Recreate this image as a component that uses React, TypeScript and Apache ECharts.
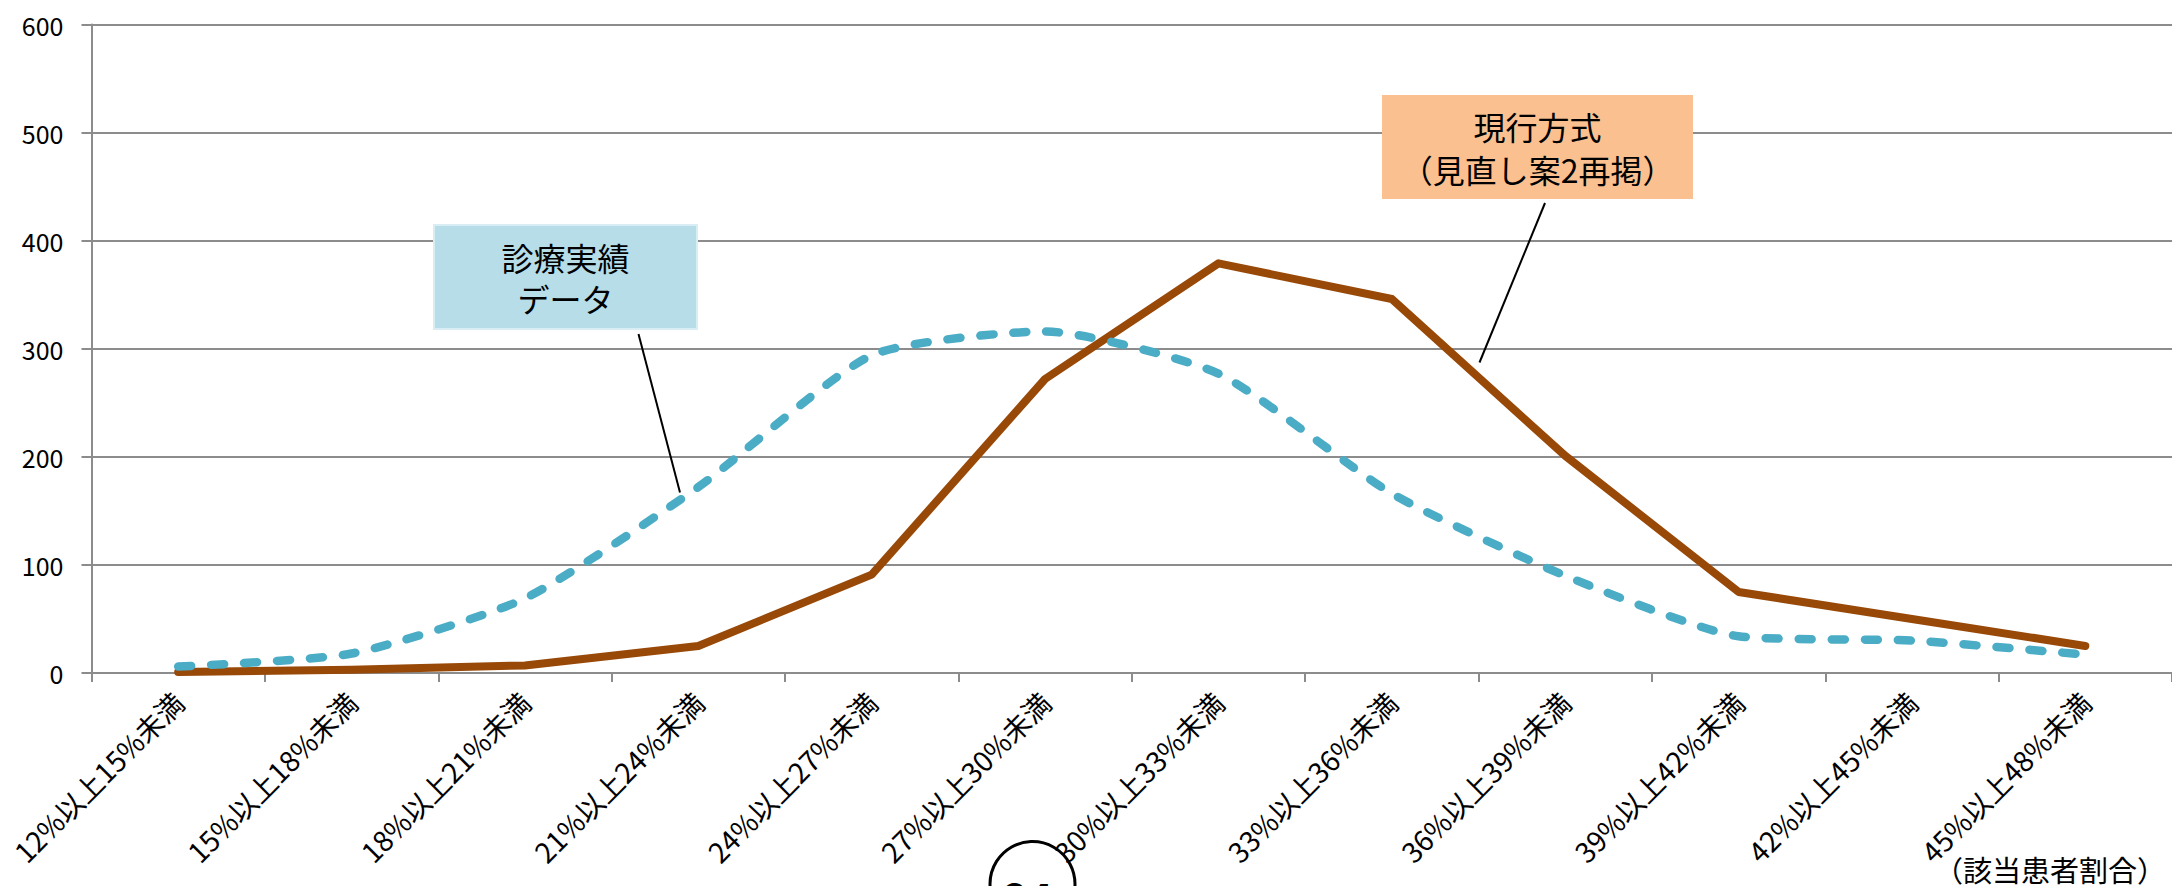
import React, { useEffect, useRef } from "react";
import * as echarts from "echarts";

// Share-of-patients bands (x axis)
const categories = [
  "12%以上15%未満",
  "15%以上18%未満",
  "18%以上21%未満",
  "21%以上24%未満",
  "24%以上27%未満",
  "27%以上30%未満",
  "30%以上33%未満",
  "33%以上36%未満",
  "36%以上39%未満",
  "39%以上42%未満",
  "42%以上45%未満",
  "45%以上48%未満",
];

// 現行方式（見直し案2再掲）
const currentMethod = [1, 3, 7, 25, 91, 272, 379, 346, 201, 75, 50, 25];
// 診療実績データ
const actualData = [6, 18, 69, 172, 294, 316, 277, 166, 90, 34, 30, 17];

const yTicks = { min: 0, max: 600, interval: 100 };

const FONT = "'Noto Sans CJK JP', 'Noto Sans', sans-serif";

export default function App() {
  const ref = useRef<HTMLDivElement>(null);

  useEffect(() => {
    document.body.style.margin = "0";
    if (!ref.current) return;
    const chart = echarts.init(ref.current, undefined, { renderer: "svg" });

    chart.setOption({
      animation: false,
      backgroundColor: "#ffffff",
      grid: { left: 91.5, top: 24.5, width: 2088, height: 648.5, containLabel: false },
      xAxis: {
        type: "category",
        data: categories,
        boundaryGap: true,
        axisLine: { show: true, lineStyle: { color: "#8c8c8c", width: 2 } },
        axisTick: { show: true, length: 9, lineStyle: { color: "#8c8c8c", width: 2 } },
        axisLabel: {
          rotate: 45,
          interval: 0,
          margin: 24,
          fontSize: 28,
          color: "#000",
          fontFamily: FONT,
        },
        splitLine: { show: false },
      },
      yAxis: {
        type: "value",
        min: yTicks.min,
        max: yTicks.max,
        interval: yTicks.interval,
        axisLine: { show: true, lineStyle: { color: "#8c8c8c", width: 2 } },
        axisTick: { show: true, length: 10, lineStyle: { color: "#8c8c8c", width: 2 } },
        axisLabel: { margin: 28, fontSize: 25, color: "#000", fontFamily: FONT },
        splitLine: { show: true, lineStyle: { color: "#8c8c8c", width: 2 } },
      },
      series: [
        {
          name: "現行方式（見直し案2再掲）",
          type: "line",
          data: currentMethod,
          showSymbol: false,
          smooth: false,
          lineStyle: { color: "#984807", width: 8, join: "round", cap: "round" },
          z: 3,
        },
        {
          name: "診療実績データ",
          type: "line",
          data: actualData,
          showSymbol: false,
          smooth: 0.2,
          lineStyle: { color: "#4bacc6", width: 8.5, type: [13, 20], cap: "round" },
          z: 4,
        },
      ],
      graphic: [
        // callout: 診療実績データ
        {
          type: "line",
          shape: { x1: 638.5, y1: 334, x2: 680, y2: 492.5 },
          style: { stroke: "#000", lineWidth: 2 },
          z: 10,
        },
        {
          type: "rect",
          shape: { x: 434, y: 225, width: 263, height: 104 },
          style: { fill: "#b7dde8", stroke: "#d9eef4", lineWidth: 2 },
          z: 10,
        },
        {
          type: "text",
          x: 565.5,
          y: 277.5,
          style: {
            text: "診療実績\nデータ",
            fontSize: 32,
            lineHeight: 41.5,
            fontFamily: FONT,
            fill: "#000",
            align: "center",
            verticalAlign: "middle",
          },
          z: 11,
        },
        // callout: 現行方式
        {
          type: "line",
          shape: { x1: 1545, y1: 203, x2: 1479.5, y2: 362.5 },
          style: { stroke: "#000", lineWidth: 2 },
          z: 10,
        },
        {
          type: "rect",
          shape: { x: 1382, y: 95, width: 311, height: 104 },
          style: { fill: "#fac090" },
          z: 10,
        },
        {
          type: "text",
          x: 1537.5,
          y: 147.5,
          style: {
            text: "現行方式\n（見直し案2再掲）",
            fontSize: 32,
            lineHeight: 43,
            fontFamily: FONT,
            fill: "#000",
            align: "center",
            verticalAlign: "middle",
          },
          z: 11,
        },
        // x-axis caption
        {
          type: "text",
          x: 2050,
          y: 869,
          style: {
            text: "（該当患者割合）",
            fontSize: 29,
            fontFamily: FONT,
            fill: "#000",
            align: "center",
            verticalAlign: "middle",
          },
          z: 11,
        },
        // page number
        {
          type: "circle",
          shape: { cx: 1032.5, cy: 884, r: 42.5 },
          style: { fill: "none", stroke: "#000", lineWidth: 3 },
          z: 9,
        },
        {
          type: "text",
          x: 1028,
          y: 895,
          style: {
            text: "24",
            fontSize: 42,
            fontWeight: "bold",
            fontFamily: FONT,
            fill: "#000",
            align: "center",
            verticalAlign: "middle",
          },
          z: 9,
        },
      ],
    });

    return () => chart.dispose();
  }, []);

  return <div ref={ref} style={{ width: 2172, height: 886 }} />;
}
